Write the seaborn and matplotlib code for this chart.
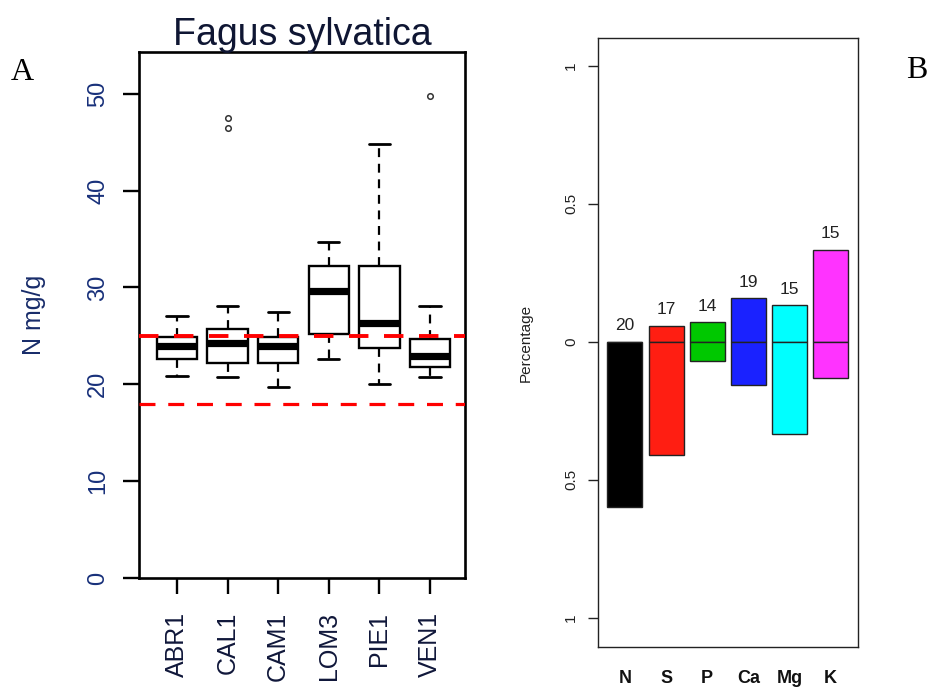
import matplotlib
matplotlib.use("Agg")
import matplotlib.pyplot as plt
import pandas as pd
import seaborn as sns

# Panel A: N concentration in Fagus sylvatica leaves, per site (five-number summaries)
sites = ["ABR1", "CAL1", "CAM1", "LOM3", "PIE1", "VEN1"]
whisker_low = [20.9, 20.7, 19.7, 22.6, 20.0, 20.7]
q1 = [22.6, 22.2, 22.2, 25.2, 23.7, 21.8]
median = [24.0, 24.3, 24.0, 29.6, 26.3, 22.9]
q3 = [24.9, 25.7, 24.9, 32.2, 32.2, 24.7]
whisker_high = [27.0, 28.1, 27.5, 34.7, 44.8, 28.1]
outliers = [[], [47.5, 46.5], [], [], [], [49.8]]
ref_lines = [25, 18]

# Panel B: share of plots above / below the reference range, per element
elements = ["N", "S", "P", "Ca", "Mg", "K"]
above = [0.0, 0.059, 0.071, 0.158, 0.133, 0.333]
below = [-0.600, -0.412, -0.071, -0.158, -0.333, -0.133]
n_plots = [20, 17, 14, 19, 15, 15]
bar_colors = ["#000000", "#ff1e12", "#00c800", "#1a22ff", "#00ffff", "#ff33ff"]

sns.set_style("white")
plt.rcParams["font.family"] = ["Liberation Sans", "DejaVu Sans"]

fig = plt.figure(figsize=(9.28, 6.87), dpi=100)
ax_a = fig.add_axes([0.1498, 0.1587, 0.3513, 0.7656])
ax_b = fig.add_axes([0.644, 0.0587, 0.2802, 0.8856])

# ---- A: boxplots
stats = []
for i, s in enumerate(sites):
    stats.append({"label": s, "whislo": whisker_low[i], "q1": q1[i], "med": median[i],
                  "q3": q3[i], "whishi": whisker_high[i], "fliers": outliers[i]})
positions = list(range(1, len(sites) + 1))
ax_a.bxp(stats, positions=positions, widths=0.8, capwidths=0.42, patch_artist=True,
         boxprops=dict(facecolor="white", edgecolor="black", linewidth=1.7),
         medianprops=dict(color="black", linewidth=5.2, solid_capstyle="butt"),
         whiskerprops=dict(color="black", linewidth=1.6, linestyle=(0, (4, 3))),
         capprops=dict(color="black", linewidth=2.0),
         flierprops=dict(marker="o", markersize=4, markerfacecolor="none",
                         markeredgecolor="#333333", markeredgewidth=1.1))
for v in ref_lines:
    ax_a.axhline(v, color="#ff0000", linewidth=2.8 if v == 25 else 2.3,
                 linestyle=(0, (5, 4)), zorder=5)

ax_a.set_xlim(0.25, 6.69)
ax_a.set_ylim(0, 54.3)
ax_a.set_yticks([0, 10, 20, 30, 40, 50])
ax_a.set_xticks(positions)
ax_a.set_xticklabels(sites, rotation=90, fontsize=18, color="#10173a")
ax_a.set_yticklabels([0, 10, 20, 30, 40, 50], rotation=90, va="center",
                     fontsize=17, color="#18307a")
ax_a.tick_params(axis="both", direction="out", length=11.5, width=1.7, color="black",
                 left=True, bottom=True)
ax_a.tick_params(axis="x", pad=13)
ax_a.tick_params(axis="y", pad=10)
for sp in ax_a.spines.values():
    sp.set_visible(True)
    sp.set_color("black")
    sp.set_linewidth(1.9)
ax_a.set_title("Fagus sylvatica", fontsize=27, color="#0f1633", pad=5)
ax_a.set_ylabel("N mg/g", fontsize=18, color="#182c6a")
ax_a.yaxis.set_label_coords(-0.285, 0.5)

# ---- B: stacked bars above / below zero
df_b = pd.DataFrame({"element": elements, "above": above, "below": below})
for col in ["above", "below"]:
    sns.barplot(data=df_b, x="element", y=col, hue="element", palette=bar_colors,
                legend=False, width=0.85, edgecolor="#222222", linewidth=1.0,
                saturation=1, ax=ax_b)
for i, n in enumerate(n_plots):
    ax_b.annotate(str(n), xy=(i, above[i]), xytext=(0, 16), textcoords="offset pixels",
                  ha="center", va="center", fontsize=12.5, color="#222222")

ax_b.set_xlim(-0.664, 5.66)
ax_b.set_ylim(-1.105, 1.1)
ax_b.set_yticks([-1, -0.5, 0, 0.5, 1])
ax_b.set_yticklabels(["1", "0.5", "0", "0.5", "1"], rotation=90, va="center",
                     fontsize=11, color="#222222")
ax_b.set_xticks(range(len(elements)))
ax_b.set_xticklabels(elements, fontsize=13, fontweight="bold", color="#111111")
ax_b.tick_params(axis="y", direction="out", length=7, width=1.0, color="#222222",
                 left=True, pad=7)
ax_b.tick_params(axis="x", length=0, pad=17)
for sp in ax_b.spines.values():
    sp.set_visible(True)
    sp.set_color("#222222")
    sp.set_linewidth(1.0)
ax_b.set_xlabel("")
ax_b.set_ylabel("Percentage", fontsize=11, color="#222222")
ax_b.yaxis.set_label_coords(-0.249, 0.5)

# panel letters
fig.text(22 / 928, 1 - 72 / 687, "A", family="Liberation Serif", fontsize=23,
         ha="center", va="center", color="black")
fig.text(917 / 928, 1 - 70 / 687, "B", family="Liberation Serif", fontsize=23,
         ha="center", va="center", color="black")

fig.savefig("out.png", dpi=100)
